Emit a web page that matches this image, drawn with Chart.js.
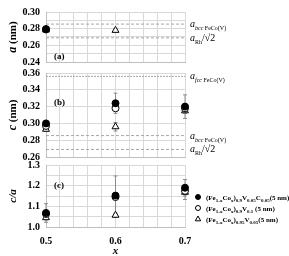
<!DOCTYPE html>
<html>
<head>
<meta charset="utf-8">
<script src="https://cdn.jsdelivr.net/npm/chart.js@4/dist/chart.umd.min.js"></script>
<style>
  body { margin: 0; background: #fff; }
  canvas { position: absolute; left: 0; top: 0; }
</style>
</head>
<body>
<canvas id="panelA" width="289" height="256"></canvas>
<canvas id="panelB" width="289" height="256"></canvas>
<canvas id="panelC" width="289" height="256"></canvas>
<script>
// composition x
const xValues = [0.5, 0.6, 0.7];
const xTickLabels = [0.5, 0.6, 0.7];

// (a) lattice constant a (nm)
const aFilled = [0.2795, null, null];
const aOpen = [0.279, null, null];
const aTriangle = [0.2785, 0.278, null];
const aTriangleErr = [0, 0.002, 0];
const aTickLabels = [0.24, 0.26, 0.28, 0.30];

// (b) lattice constant c (nm)
const cFilled = [0.300, 0.324, 0.320];
const cOpen = [0.297, 0.318, 0.318];
const cTriangle = [0.293, 0.296, 0.315];
const cFilledErr = [0.003, 0.012, 0.014];
const cTriangleErr = [0.002, 0.005, 0.003];
const cTickLabels = [0.26, 0.28, 0.30, 0.32, 0.34, 0.36];

// (c) c/a
const caFilled = [1.068, 1.152, 1.190];
const caOpen = [1.063, 1.145, 1.175];
const caTriangle = [1.045, 1.057, 1.168];
const caFilledErr = [0.045, 0.095, 0.04];
const caTriangleErr = [0.01, 0.01, 0.035];
const caTickLabels = [1.0, 1.1, 1.2, 1.3];

// reference values (nm)
const aBccFeCo = 0.2855;
const aRhRoot2 = 0.269;
const aFccFeCo = 0.356;

const FONT = '"Liberation Serif", "Times New Roman", serif';
Chart.defaults.font.family = FONT;
Chart.defaults.color = '#000';

// draws text made of pieces: [text, size, style, dy]
function drawRich(ctx, x, y, parts, measureOnly) {
  parts.forEach(p => {
    ctx.font = (p[2] || '') + ' ' + p[1] + 'px ' + FONT;
    if (!measureOnly) ctx.fillText(p[0], x, y + (p[3] || 0));
    x += ctx.measureText(p[0]).width;
  });
  return x;
}

const bccLabel = [['a', 10, 'italic'], ['bcc', 6, 'italic', 3], [' FeCo(V)', 6, '', 3]];
const fccLabel = [['a', 10, 'italic'], ['fcc', 6, 'italic', 3], [' FeCo(V)', 6, '', 3]];
const rhLabel = [['a', 10, 'italic'], ['Rh', 6, '', 3], ['/\u221a2', 10, '']];

function sub(t) { return [t, 5, 'bold', 2]; }
function main(t) { return [t, 7, 'bold']; }
const legendRows = [
  { style: 'filled', parts: [main('(Fe'), sub('1-x'), main('Co'), sub('x'), main(')'), sub('0.9'), main('V'), sub('0.05'), main('C'), sub('0.05'), main('(5 nm)')] },
  { style: 'open', parts: [main('(Fe'), sub('1-x'), main('Co'), sub('x'), main(')'), sub('0.9'), main('V'), sub('0.1'), main(' (5 nm)')] },
  { style: 'triangle', parts: [main('(Fe'), sub('1-x'), main('Co'), sub('x'), main(')'), sub('0.95'), main('V'), sub('0.05'), main('(5 nm)')] }
];

function markerSet(values, style, fill, errors, order) {
  return {
    data: xValues.map((x, i) => ({ x: x, y: values[i] })),
    pointStyle: style,
    pointRadius: style === 'triangle' ? 4 : 3.5,
    pointBackgroundColor: fill,
    pointBorderColor: '#000',
    pointBorderWidth: 1,
    errors: errors,
    order: order,
    clip: false
  };
}

function refLine(value, dash) {
  return {
    type: 'line',
    data: [{ x: 0.5, y: value }, { x: 0.7, y: value }],
    borderColor: '#a6a6a6',
    borderWidth: 1,
    borderDash: dash,
    pointRadius: 0,
    order: 10
  };
}

function drawMarker(ctx, style, x, y, r) {
  ctx.beginPath();
  if (style === 'triangle') {
    ctx.moveTo(x, y - r);
    ctx.lineTo(x + r * 0.9, y + r * 0.6);
    ctx.lineTo(x - r * 0.9, y + r * 0.6);
    ctx.closePath();
  } else {
    ctx.arc(x, y, r, 0, Math.PI * 2);
  }
  ctx.fillStyle = style === 'filled' ? '#000' : '#fff';
  ctx.fill();
  ctx.strokeStyle = '#000';
  ctx.lineWidth = 1;
  ctx.stroke();
}

const decor = {
  id: 'decor',
  beforeDatasetsDraw(chart) {
    const ctx = chart.ctx, ys = chart.scales.y;
    ctx.save();
    ctx.strokeStyle = '#8c8c8c';
    ctx.lineWidth = 1;
    chart.data.datasets.forEach((ds, i) => {
      if (!ds.errors) return;
      chart.getDatasetMeta(i).data.forEach((pt, j) => {
        const v = ds.data[j].y, e = ds.errors[j];
        if (v == null || !e) return;
        const top = ys.getPixelForValue(v + e), bot = ys.getPixelForValue(v - e);
        ctx.beginPath();
        ctx.moveTo(pt.x, top); ctx.lineTo(pt.x, bot);
        ctx.moveTo(pt.x - 2, top); ctx.lineTo(pt.x + 2, top);
        ctx.moveTo(pt.x - 2, bot); ctx.lineTo(pt.x + 2, bot);
        ctx.stroke();
      });
    });
    ctx.restore();
  },
  afterDraw(chart) {
    const o = chart.options.plugins.decor;
    const ctx = chart.ctx, area = chart.chartArea, ys = chart.scales.y;
    ctx.save();
    ctx.fillStyle = '#000';
    ctx.textBaseline = 'alphabetic';
    // panel letter
    drawRich(ctx, area.left + 8, area.top + o.letterY, [[o.letter, 9, 'bold']]);
    // reference line labels
    o.notes.forEach(n => drawRich(ctx, area.right + 5, ys.getPixelForValue(n.value) + 3, n.parts));
    // y title, rotated
    const w = drawRich(ctx, 0, 0, o.title, true);
    ctx.translate(16, (area.top + area.bottom) / 2);
    ctx.rotate(-Math.PI / 2);
    drawRich(ctx, -w / 2, 0, o.title);
    ctx.restore();
    // legend
    if (o.legend) {
      ctx.save();
      legendRows.forEach((row, i) => {
        const y = 197 + i * 11;
        drawMarker(ctx, row.style, 198, y, row.style === 'triangle' ? 3 : 2.5);
        ctx.fillStyle = '#000';
        drawRich(ctx, 206, y + 2.5, row.parts);
      });
      ctx.restore();
    }
  }
};

function hasLabel(list, v) { return list.some(t => Math.abs(t - v) < 1e-6); }

function makePanel(id, cfg) {
  const bottomPanel = !!cfg.legend;
  return new Chart(document.getElementById(id), {
    type: 'scatter',
    data: {
      datasets: [
        markerSet(cfg.filled, 'circle', '#000', cfg.filledErr, 0),
        markerSet(cfg.open, 'circle', '#fff', null, 1),
        markerSet(cfg.tri, 'triangle', '#fff', cfg.triErr, 2)
      ].concat(cfg.lines.map(l => refLine(l[0], l[1])))
    },
    options: {
      responsive: false,
      animation: false,
      events: [],
      layout: { padding: { top: cfg.top, bottom: cfg.bottom, left: 0, right: 104 } },
      plugins: {
        legend: { display: false },
        tooltip: { enabled: false },
        decor: { letter: cfg.letter, letterY: cfg.letterY, notes: cfg.notes, title: cfg.title, legend: cfg.legend }
      },
      scales: {
        x: {
          type: 'linear', min: 0.5, max: 0.7,
          grid: { color: '#d9d9d9', drawTicks: false },
          border: { color: '#bfbfbf' },
          ticks: {
            stepSize: 0.02, autoSkip: false, maxRotation: 0, display: bottomPanel, padding: 8,
            font: { size: 10, weight: 'bold' },
            callback: v => hasLabel(xTickLabels, v) ? v.toFixed(1) : ''
          },
          title: { display: bottomPanel, text: 'x', padding: { top: 0, bottom: -2 }, font: { size: 11, style: 'italic', weight: 'bold' } },
          afterFit: s => { s.height = bottomPanel ? 29 : 0; }
        },
        y: {
          min: cfg.min, max: cfg.max,
          grid: { color: '#d9d9d9', drawTicks: false },
          border: { color: '#bfbfbf' },
          ticks: {
            stepSize: cfg.step, autoSkip: false, padding: 6,
            font: { size: 10, weight: 'bold' },
            callback: v => hasLabel(cfg.labels, v) ? v.toFixed(cfg.digits) : ''
          },
          afterFit: s => { s.width = 46; }
        }
      }
    },
    plugins: [decor]
  });
}

makePanel('panelA', {
  top: 5, bottom: 194, min: 0.24, max: 0.30, step: 0.01, labels: aTickLabels, digits: 2,
  filled: aFilled, open: aOpen, tri: aTriangle, filledErr: null, triErr: aTriangleErr,
  lines: [[aBccFeCo, [3, 2]], [aRhRoot2, [3, 2]]],
  notes: [{ value: aBccFeCo, parts: bccLabel }, { value: aRhRoot2, parts: rhLabel }],
  letter: '(a)', letterY: 47,
  title: [['a', 12, 'italic bold'], [' (nm)', 11, 'bold']]
});

makePanel('panelB', {
  top: 73, bottom: 99, min: 0.26, max: 0.36, step: 0.02, labels: cTickLabels, digits: 2,
  filled: cFilled, open: cOpen, tri: cTriangle, filledErr: cFilledErr, triErr: cTriangleErr,
  lines: [[aFccFeCo, [2, 1]], [aBccFeCo, [3, 2]], [aRhRoot2, [3, 2]]],
  notes: [{ value: aFccFeCo, parts: fccLabel }, { value: aBccFeCo, parts: bccLabel }, { value: aRhRoot2, parts: rhLabel }],
  letter: '(b)', letterY: 32,
  title: [['c', 12, 'italic bold'], [' (nm)', 11, 'bold']]
});

makePanel('panelC', {
  top: 165, bottom: 0, min: 1.0, max: 1.3, step: 0.05, labels: caTickLabels, digits: 1,
  filled: caFilled, open: caOpen, tri: caTriangle, filledErr: caFilledErr, triErr: caTriangleErr,
  lines: [],
  notes: [],
  letter: '(c)', letterY: 23,
  title: [['c/a', 11, 'italic bold']],
  legend: true
});
</script>
</body>
</html>
